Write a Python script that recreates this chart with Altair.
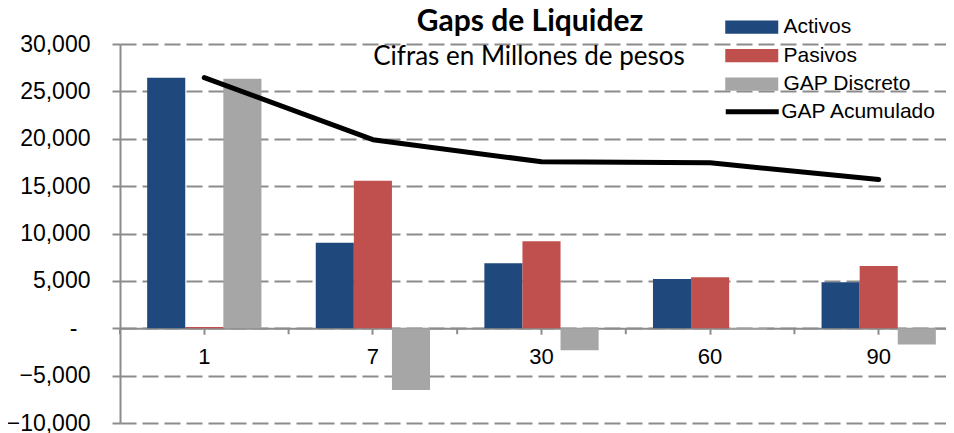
import altair as alt
import pandas as pd

categorias = ["1", "7", "30", "60", "90"]
series_barras = ["Activos", "Pasivos", "GAP Discreto"]
colores_barras = ["#1F497D", "#C0504D", "#A6A6A6"]
activos = [26450, 9030, 6850, 5190, 4850]
pasivos = [120, 15560, 9170, 5370, 6570]
gap_discreto = [26330, -6530, -2320, -180, -1720]
gap_acumulado = [26450, 19900, 17570, 17460, 15700]
y_ticks = [-10000, -5000, 0, 5000, 10000, 15000, 20000, 25000, 30000]
titulo = "Gaps de Liquidez"
subtitulo = "Cifras en Millones de pesos"

rows = []
for i, c in enumerate(categorias):
    rows.append({"cat": c, "serie": "Activos", "valor": activos[i]})
    rows.append({"cat": c, "serie": "Pasivos", "valor": pasivos[i]})
    rows.append({"cat": c, "serie": "GAP Discreto", "valor": gap_discreto[i]})
bars_df = pd.DataFrame(rows)
line_df = pd.DataFrame({"cat": categorias, "serie": ["GAP Acumulado"] * len(categorias), "valor": gap_acumulado})
cat_df = pd.DataFrame({"cat": categorias})

W = 826
H = 379
GRID = "#8C8C8C"
FONT = "Liberation Sans"
zero_px = H * 30000 / 40000

xscale = alt.Scale(domain=categorias, range=[0, 843], paddingInner=0, paddingOuter=0)
yscale = alt.Scale(domain=[-10000, 30000], nice=False, zero=False)

yaxis = alt.Axis(
    values=y_ticks,
    labelExpr="datum.value === 0 ? '-' : format(datum.value, ',')",
    grid=True, gridDash=[16, 6], gridColor=GRID, gridWidth=2,
    domainColor=GRID, domainWidth=2, tickColor=GRID, tickWidth=2, tickSize=8,
    labelFont=FONT, labelFontSize=23, labelColor="black",
    labelPadding={"condition": {"test": "datum.value === 0", "value": 35}, "value": 22},
    title=None,
)
xaxis = alt.Axis(
    orient="bottom", offset=-(H - zero_px), grid=False,
    domainColor=GRID, domainWidth=2, tickColor=GRID, tickWidth=2, tickSize=6,
    labelFont=FONT, labelFontSize=22, labelColor="black", labelPadding=12,
    labelAngle=0, title=None,
)

bar_sym = "M-2,-0.5H2V0.5H-2Z"
line_sym = "M-2,0H2"

bars = alt.Chart(bars_df).mark_bar().encode(
    x=alt.X("cat:N", sort=categorias, scale=xscale, axis=xaxis),
    xOffset=alt.XOffset("serie:N", sort=series_barras,
                        scale=alt.Scale(domain=series_barras, paddingOuter=0.713, paddingInner=0)),
    y=alt.Y("valor:Q", scale=yscale, axis=yaxis),
    color=alt.Color("serie:N", scale=alt.Scale(domain=series_barras, range=colores_barras),
                    legend=alt.Legend(orient="none", legendX=618.25, legendY=-30.5, title=None,
                                      symbolType=bar_sym, symbolSize=702.25, symbolStrokeWidth=0,
                                      labelFont=FONT, labelFontSize=21, labelColor="black",
                                      labelOffset=18.25, rowPadding=4.5, padding=0, labelLimit=300)),
)

line = alt.Chart(line_df).mark_line(strokeWidth=5, strokeCap="round", strokeJoin="round").encode(
    x=alt.X("cat:N", sort=categorias, scale=xscale),
    y=alt.Y("valor:Q", scale=yscale),
    stroke=alt.Stroke("serie:N", scale=alt.Scale(domain=["GAP Acumulado"], range=["black"]),
                      legend=alt.Legend(orient="none", legendX=616.25, legendY=51.75, title=None,
                                        symbolType=line_sym, symbolSize=702.25, symbolStrokeWidth=5,
                                        labelFont=FONT, labelFontSize=21, labelColor="black",
                                        labelOffset=13, padding=0, labelLimit=300)),
)

ticks = alt.Chart(cat_df).mark_rule(color=GRID, strokeWidth=2).encode(
    x=alt.X("cat:N", sort=categorias, scale=xscale, bandPosition=0),
    y=alt.Y(datum=0, scale=yscale),
    y2=alt.value(zero_px + 6),
)

title_t = alt.Chart(pd.DataFrame({"t": [titulo]})).mark_text(
    font="Lato", fontSize=30, fontWeight="bold", align="center", baseline="alphabetic", color="black"
).encode(x=alt.value(410), y=alt.value(-13), text="t:N")

sub_t = alt.Chart(pd.DataFrame({"t": [subtitulo]})).mark_text(
    font="Lato", fontSize=26, align="center", baseline="alphabetic", color="black"
).encode(x=alt.value(409), y=alt.value(21), text="t:N")

chart = alt.layer(bars, line, ticks, title_t, sub_t).properties(
    width=W, height=H,
    autosize=alt.AutoSizeParams(type="none"),
    padding={"left": 112, "top": 36, "right": 0, "bottom": 10},
    background="white",
).resolve_scale(color="independent").configure_view(stroke=None)

chart.save("out.html", embed_options={"renderer": "svg", "actions": False})
